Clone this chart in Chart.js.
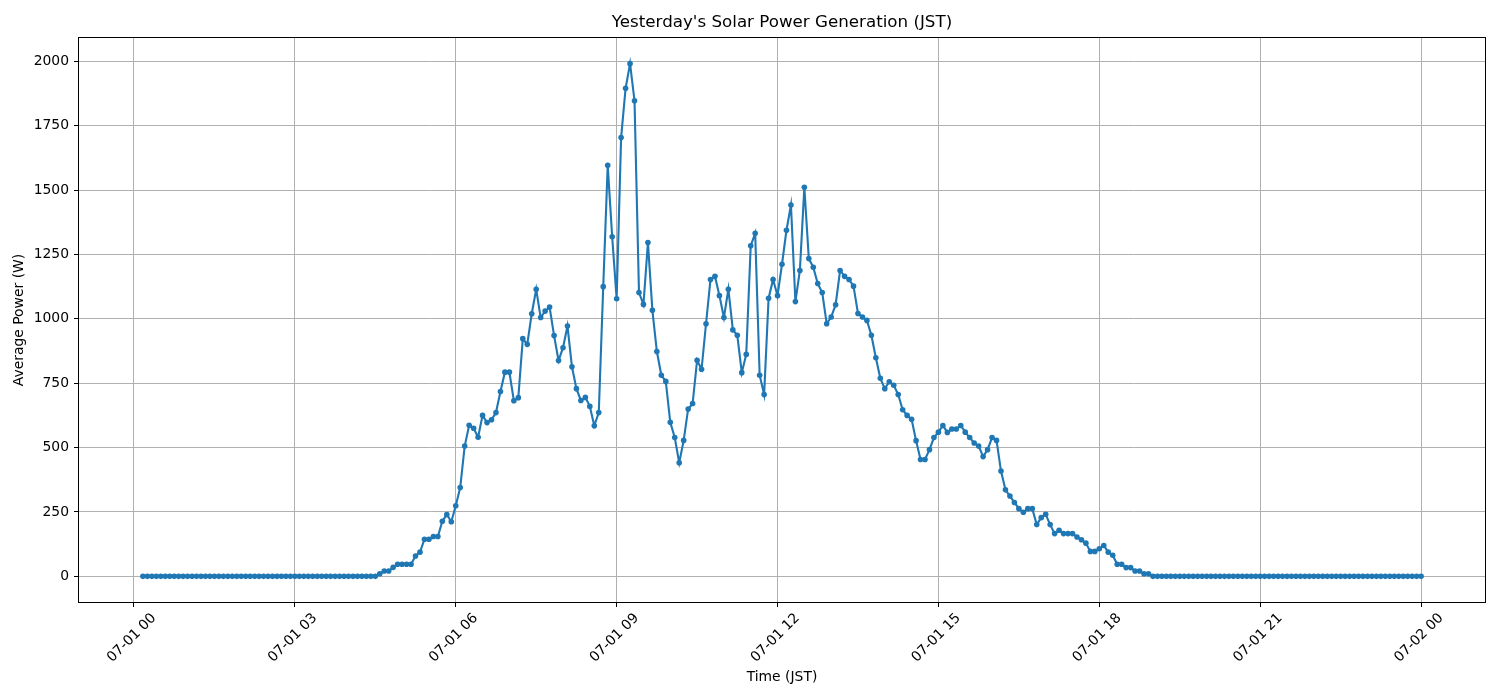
<!doctype html>
<html lang="en">
<head>
<meta charset="utf-8">
<title>Yesterday's Solar Power Generation (JST)</title>
<style>
    body { margin: 0; background: #fff; }
    canvas { display: block; }
</style>
</head>
<body>
<canvas id="myCanvas" width="1500" height="700"></canvas>

<script src="https://cdn.jsdelivr.net/npm/chart.js"></script>
<script>
    // samples every 5 minutes, first one at 00:10, last at 24:00
    const START_MIN = 10;
    const STEP_MIN = 5;

    // average power (W), one row per hour
    const powerW = [
        0, 0, 0, 0, 0, 0, 0, 0, 0, 0,                                   // 00:10-00:55
        0, 0, 0, 0, 0, 0, 0, 0, 0, 0, 0, 0,                             // 01
        0, 0, 0, 0, 0, 0, 0, 0, 0, 0, 0, 0,                             // 02
        0, 0, 0, 0, 0, 0, 0, 0, 0, 0, 0, 0,                             // 03
        0, 0, 0, 0, 0, 0, 0, 10, 21, 21, 35, 47,                        // 04
        47, 47, 47, 79, 94, 144, 144, 155, 155, 214, 240, 212,          // 05
        274, 345, 506, 587, 575, 540, 625, 597, 608, 636, 718, 793,     // 06
        793, 682, 694, 923, 901, 1020, 1115, 1005, 1030, 1046, 935, 838, // 07
        888, 972, 814, 729, 683, 695, 660, 585, 636, 1125, 1596, 1319,  // 08
        1078, 1704, 1895, 1991, 1847, 1102, 1056, 1296, 1033, 873, 781, 757, // 09
        598, 539, 441, 528, 650, 671, 839, 804, 981, 1153, 1165, 1090,  // 10
        1005, 1115, 957, 936, 791, 862, 1284, 1332, 781, 706, 1080, 1153, // 11
        1090, 1212, 1344, 1442, 1067, 1188, 1511, 1234, 1200, 1137, 1102, 981, // 12
        1007, 1055, 1188, 1165, 1153, 1127, 1021, 1007, 994, 936, 849, 769, // 13
        729, 756, 742, 706, 647, 625, 610, 527, 454, 454, 492, 539,     // 14
        560, 586, 559, 572, 572, 586, 560, 539, 518, 506, 465, 492,     // 15
        539, 528, 409, 336, 312, 287, 263, 249, 263, 263, 201, 228,     // 16
        241, 201, 166, 179, 166, 166, 166, 153, 142, 129, 97, 97,       // 17
        107, 120, 94, 82, 47, 47, 34, 34, 21, 21, 10, 10,               // 18
        0, 0, 0, 0, 0, 0, 0, 0, 0, 0, 0, 0,                             // 19
        0, 0, 0, 0, 0, 0, 0, 0, 0, 0, 0, 0,                             // 20
        0, 0, 0, 0, 0, 0, 0, 0, 0, 0, 0, 0,                             // 21
        0, 0, 0, 0, 0, 0, 0, 0, 0, 0, 0, 0,                             // 22
        0, 0, 0, 0, 0, 0, 0, 0, 0, 0, 0, 0,                             // 23
        0                                                               // 24:00
    ];

    const xTickHours = [0, 3, 6, 9, 12, 15, 18, 21, 24];
    const xTickLabels = ['07-01 00', '07-01 03', '07-01 06', '07-01 09', '07-01 12',
        '07-01 15', '07-01 18', '07-01 21', '07-02 00'];
    const yTicks = [0, 250, 500, 750, 1000, 1250, 1500, 1750, 2000];

    const points = powerW.map((v, i) => ({x: (START_MIN + i * STEP_MIN) / 60, y: v}));

    // matplotlib style 5% margins
    const xFirst = points[0].x, xLast = points[points.length - 1].x;
    const xPad = (xLast - xFirst) * 0.05;
    const yMaxV = Math.max(...powerW), yPad = yMaxV * 0.05;

    const FONT = 'DejaVu Sans';

    const framePlugin = {
        id: 'frame',
        afterDraw(chart) {
            const {ctx, chartArea: a} = chart;
            ctx.save();
            ctx.strokeStyle = '#000';
            ctx.lineWidth = 1;
            ctx.strokeRect(Math.round(a.left) - 0.5, Math.round(a.top) - 0.5,
                Math.round(a.right - a.left) + 1, Math.round(a.bottom - a.top) + 1);
            ctx.fillStyle = '#000';
            ctx.font = '16.7px "' + FONT + '"';
            ctx.textAlign = 'center';
            ctx.textBaseline = 'middle';
            ctx.fillText("Yesterday's Solar Power Generation (JST)", (a.left + a.right) / 2, 23);
            ctx.restore();
        }
    };

    new Chart(document.getElementById('myCanvas'), {
        type: 'line',
        data: {
            datasets: [{
                data: points,
                borderColor: '#1f77b4',
                backgroundColor: '#1f77b4',
                borderWidth: 2.1,
                pointRadius: 2.8,
                pointBorderWidth: 0,
                pointBackgroundColor: '#1f77b4',
                tension: 0
            }]
        },
        options: {
            responsive: false,
            animation: false,
            devicePixelRatio: 1,
            layout: {padding: {top: 38, right: 15, left: 0, bottom: 0}},
            plugins: {
                legend: {display: false},
                tooltip: {enabled: false},
                title: {display: false}
            },
            scales: {
                x: {
                    type: 'linear',
                    min: xFirst - xPad,
                    max: xLast + xPad,
                    afterBuildTicks: (s) => { s.ticks = xTickHours.map(v => ({value: v})); },
                    afterFit: (s) => { s.height = 98; },
                    ticks: {
                        autoSkip: false,
                        minRotation: 45,
                        maxRotation: 45,
                        padding: 3,
                        labelOffset: 20,
                        color: '#000',
                        font: {family: FONT, size: 13.9},
                        callback: (v) => xTickLabels[xTickHours.indexOf(v)]
                    },
                    grid: {color: '#b0b0b0', lineWidth: 1, tickColor: '#000', tickLength: 5},
                    border: {display: false},
                    title: {
                        display: true,
                        text: 'Time (JST)',
                        color: '#000',
                        font: {family: FONT, size: 13.9},
                        padding: {top: 0, bottom: 14.5}
                    }
                },
                y: {
                    type: 'linear',
                    min: -yPad,
                    max: yMaxV + yPad,
                    afterBuildTicks: (s) => { s.ticks = yTicks.map(v => ({value: v})); },
                    afterFit: (s) => { s.width = 79; },
                    ticks: {
                        padding: 5,
                        color: '#000',
                        font: {family: FONT, size: 13.9},
                        callback: (v) => String(v)
                    },
                    grid: {color: '#b0b0b0', lineWidth: 1, tickColor: '#000', tickLength: 5},
                    border: {display: false},
                    title: {
                        display: true,
                        text: 'Average Power (W)',
                        color: '#000',
                        font: {family: FONT, size: 13.9},
                        padding: {top: 11.5, bottom: 0}
                    }
                }
            }
        },
        plugins: [framePlugin]
    });
</script>
</body>
</html>
